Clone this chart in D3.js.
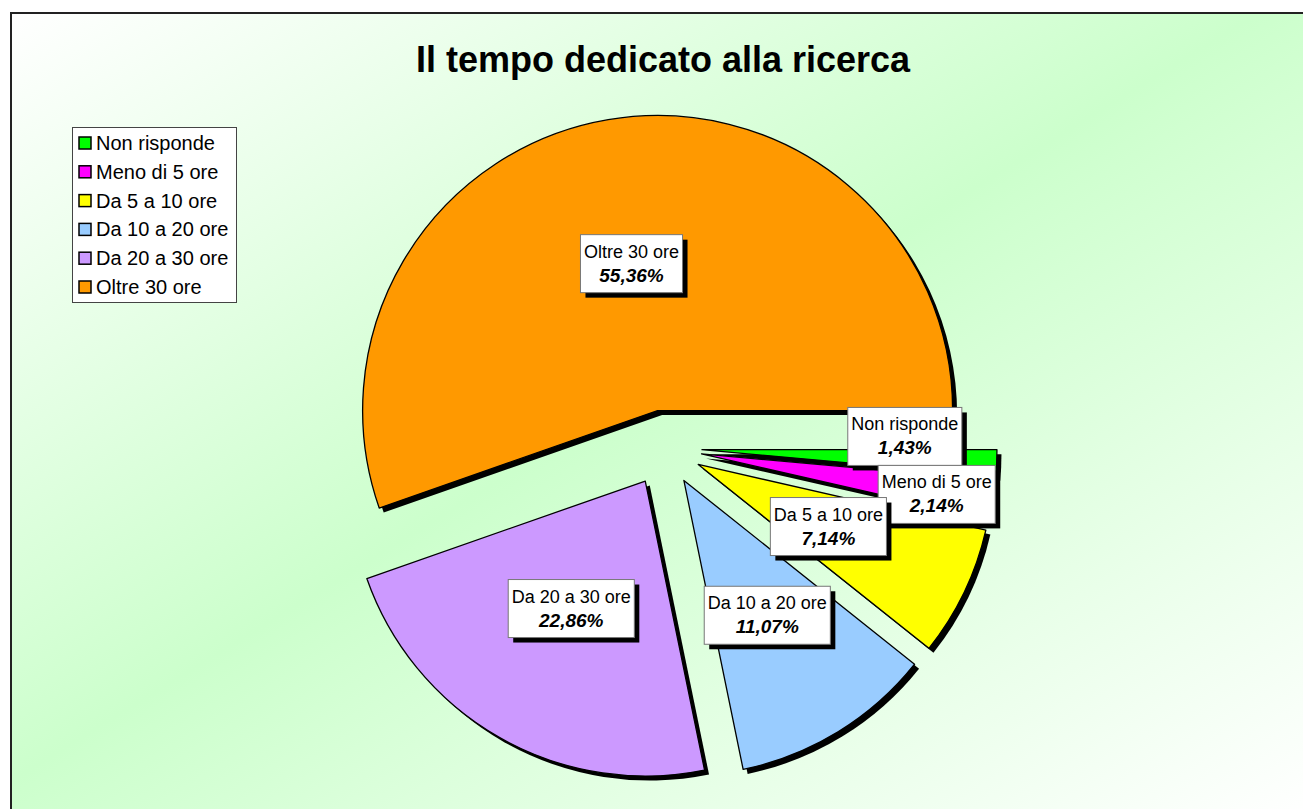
<!DOCTYPE html>
<html>
<head>
<meta charset="UTF-8">
<title>Il tempo dedicato alla ricerca</title>
<script src="https://cdn.jsdelivr.net/npm/d3@7"></script>
<style>
* { margin: 0; padding: 0; }
body { background: #fff; }
#chart { display: block; }
text { font-family: "Liberation Sans", Arial, sans-serif; }
</style>
</head>
<body>
<svg id="chart"></svg>
<script>
// dati
const categories = ["Non risponde", "Meno di 5 ore", "Da 5 a 10 ore", "Da 10 a 20 ore", "Da 20 a 30 ore", "Oltre 30 ore"];
const percentages = [1.43, 2.14, 7.14, 11.07, 22.86, 55.36];
const colors = ["#00ff00", "#ff00ff", "#ffff00", "#99ccff", "#cc99ff", "#ff9900"];
const title = "Il tempo dedicato alla ricerca";

(function() {
    const width = 1303, height = 809;
    const cx = 664, cy = 448, radius = 295, explode = 38;
    const labelR = 150;
    // spostamenti manuali delle etichette (come nel foglio originale)
    const labelNudge = [[53, -20], [87, 17], [-5, -3], [5, 7], [0, -3], [-1, 1]];

    const svg = d3.select("#chart").attr("width", width).attr("height", height);

    const defs = svg.append("defs");
    const grad = defs.append("linearGradient")
        .attr("id", "bg").attr("x1", 0).attr("y1", 0).attr("x2", 1).attr("y2", 1);
    grad.append("stop").attr("offset", "0%").attr("stop-color", "#ffffff");
    grad.append("stop").attr("offset", "48%").attr("stop-color", "#ccffcc");
    grad.append("stop").attr("offset", "100%").attr("stop-color", "#ffffff");

    svg.append("rect")
        .attr("x", 11).attr("y", 13).attr("width", 1300).attr("height", 800)
        .attr("fill", "url(#bg)")
        .attr("stroke", "#222").attr("stroke-width", 2);

    svg.append("text")
        .attr("x", 663).attr("y", 72)
        .attr("text-anchor", "middle")
        .style("font-size", "36px").style("font-weight", "bold")
        .text(title);

    const data = categories.map((c, i) => ({ name: c, value: percentages[i], color: colors[i] }));

    const pie = d3.pie().value(d => d.value).sort(null)
        .startAngle(Math.PI / 2).endAngle(Math.PI / 2 + 2 * Math.PI);
    const arcs = pie(data);
    const arc = d3.arc().innerRadius(0).outerRadius(radius);

    const mid = d => (d.startAngle + d.endAngle) / 2;
    const off = (d, r) => [Math.sin(mid(d)) * r, -Math.cos(mid(d)) * r];

    const g = svg.append("g").attr("transform", `translate(${cx},${cy})`);

    // ombre
    g.selectAll(".shadow").data(arcs).enter().append("path")
        .attr("class", "shadow")
        .attr("d", arc)
        .attr("fill", "#000")
        .attr("transform", d => { const o = off(d, explode); return `translate(${o[0] + 4.5},${o[1] + 4.5})`; });

    g.selectAll(".slice").data(arcs).enter().append("path")
        .attr("class", "slice")
        .attr("d", arc)
        .attr("fill", d => d.data.color)
        .attr("stroke", "#000").attr("stroke-width", 1.3)
        .attr("stroke-linejoin", "round")
        .attr("transform", d => { const o = off(d, explode); return `translate(${o[0]},${o[1]})`; });

    const fmt = v => d3.format(".2f")(v).replace(".", ",") + "%";

    const labels = g.selectAll(".label").data(arcs).enter().append("g")
        .attr("class", "label")
        .attr("transform", (d, i) => {
            const a = off(d, explode), b = off(d, labelR);
            return `translate(${a[0] + b[0] + labelNudge[i][0]},${a[1] + b[1] + labelNudge[i][1]})`;
        });

    labels.each(function(d) {
        const lg = d3.select(this);
        const shadow = lg.append("rect").attr("fill", "#000");
        const box = lg.append("rect").attr("fill", "#fff").attr("stroke", "#777").attr("stroke-width", 1);
        const t1 = lg.append("text").attr("text-anchor", "middle").attr("y", -6)
            .style("font-size", "18px").text(d.data.name);
        const t2 = lg.append("text").attr("text-anchor", "middle").attr("y", 18)
            .style("font-size", "19px").style("font-weight", "bold").style("font-style", "italic")
            .text(fmt(d.data.value));
        const w = Math.max(t1.node().getComputedTextLength(), t2.node().getComputedTextLength()) + 7;
        const h = 58;
        box.attr("x", -w / 2).attr("y", -29).attr("width", w).attr("height", h);
        shadow.attr("x", -w / 2 + 5).attr("y", -29 + 5).attr("width", w).attr("height", h);
    });

    // legenda
    const leg = svg.append("g").attr("transform", "translate(72,127)");
    leg.append("rect").attr("x", 0.5).attr("y", 0.5).attr("width", 164).attr("height", 175)
        .attr("fill", "#fff").attr("stroke", "#444").attr("stroke-width", 1);
    const ly = d3.scaleLinear().domain([0, categories.length - 1]).range([16, 160]);
    const items = leg.selectAll(".item").data(data).enter().append("g")
        .attr("class", "item")
        .attr("transform", (d, i) => `translate(0,${ly(i)})`);
    items.append("rect").attr("x", 7).attr("y", -6).attr("width", 12).attr("height", 12)
        .attr("fill", d => d.color).attr("stroke", "#000").attr("stroke-width", 1.5);
    items.append("text").attr("x", 24).attr("y", 7)
        .style("font-size", "20px").text(d => d.name);
})();
</script>
</body>
</html>
